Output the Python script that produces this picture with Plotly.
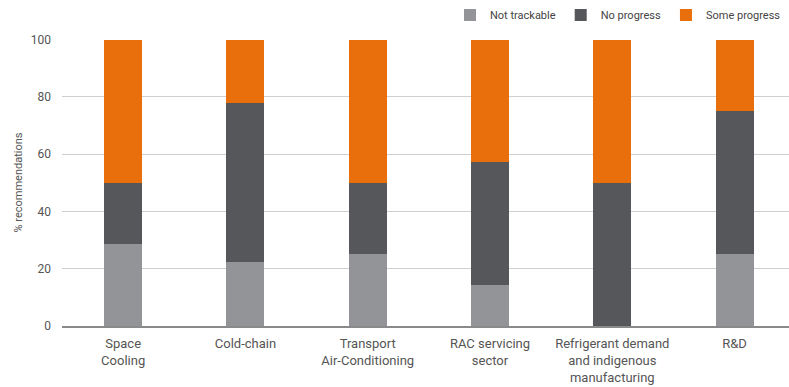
import plotly.graph_objects as go

# Recommendation progress by sector (% of recommendations)
categories = [
    "Space<br>Cooling",
    "Cold-chain",
    "Transport<br>Air-Conditioning",
    "RAC servicing<br>sector",
    "Refrigerant demand<br>and indigenous<br>manufacturing",
    "R&D",
]
not_trackable = [28.6, 22.2, 25.0, 14.3, 0.0, 25.0]
no_progress = [21.4, 55.6, 25.0, 42.8, 50.0, 50.0]
some_progress = [50.0, 22.2, 50.0, 42.9, 50.0, 25.0]

series = [
    ("Not trackable", not_trackable, "#939497"),
    ("No progress", no_progress, "#55575a"),
    ("Some progress", some_progress, "#e86f0c"),
]

font_family = "Roboto, 'Noto Sans', sans-serif"
text_color = "#555555"

fig = go.Figure()
for name, vals, color in series:
    fig.add_trace(go.Bar(
        x=categories, y=vals, name=name,
        marker=dict(color=color, line=dict(width=0)),
        width=0.31,
    ))

fig.update_layout(
    barmode="stack",
    width=789, height=387,
    margin=dict(l=62, r=0, t=39, b=61, autoexpand=False),
    paper_bgcolor="white", plot_bgcolor="white",
    font=dict(family=font_family, size=11, color=text_color),
    legend=dict(
        orientation="h", x=450 / 789, xref="container", xanchor="left",
        y=1 - 15 / 387, yref="container", yanchor="middle",
        font=dict(size=11, color="#444444"),
        itemwidth=30, traceorder="normal",
        bgcolor="rgba(0,0,0,0)",
    ),
    showlegend=True,
    xaxis=dict(
        range=[-0.5, 5.445],
        showgrid=False, ticks="", showline=True,
        linecolor="#8a8a8a", linewidth=1.5,
        ticklabelstandoff=5,
        tickfont=dict(size=13, color=text_color),
    ),
    yaxis=dict(
        range=[0, 100.2],
        tickvals=[0, 20, 40, 60, 80, 100],
        showgrid=True, gridcolor="#cfcfcf", gridwidth=1,
        zeroline=False, ticks="", ticklabelstandoff=10,
        tickfont=dict(size=12, color=text_color),
        title=dict(text="% recommendations", font=dict(size=11, color=text_color), standoff=5),
    ),
)

fig.write_html("out.html")
